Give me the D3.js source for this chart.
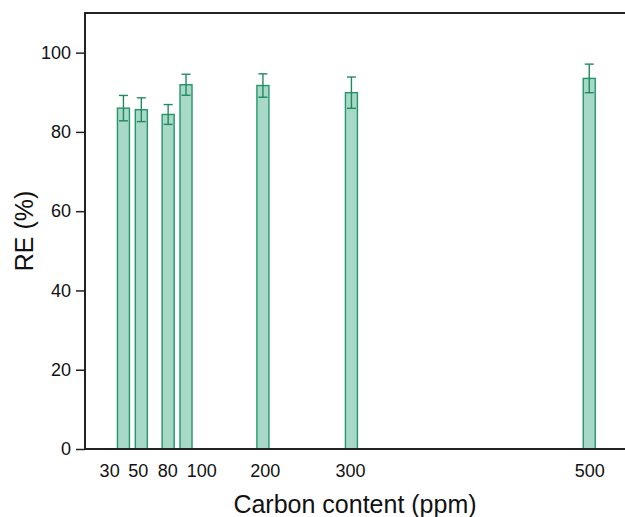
<!DOCTYPE html>
<html>
<head>
<meta charset="utf-8">
<script src="https://cdn.jsdelivr.net/npm/d3@7"></script>
<style>
  html, body { margin: 0; padding: 0; background: #fff; }
  svg { display: block; }
  text { font-family: Arial, "Liberation Sans", sans-serif; fill: #111; }
</style>
</head>
<body>
<svg id="chart" width="625" height="517"></svg>
<script>
// Data
const categories = ["30", "50", "80", "100", "200", "300", "500"];
// position of each bar along the (non-uniformly drawn) carbon axis, in axis units
const xPositions = [30, 50, 80, 100, 186, 285, 551];
// where each category label sits along the same axis (labels are nudged apart in the original)
const labelPositions = [14, 46, 79, 117, 188, 283.5, 551];
const reValues = [86.0, 85.6, 84.4, 91.9, 91.7, 89.9, 93.5];
const reErrors = [3.2, 3.0, 2.5, 2.65, 2.95, 3.95, 3.6];
const yTicks = [0, 20, 40, 60, 80, 100];

const W = 625, H = 517;
const m = { left: 85, right: 0, top: 13, bottom: 68 };
const svg = d3.select("#chart");

const x = d3.scaleLinear().domain([-13, 591]).range([m.left, W - m.right]);
const y = d3.scaleLinear().domain([0, 110]).range([H - m.bottom, m.top]);

const barW = 12, capW = 9;
const fill = "#a8d8c7", stroke = "#22976a", errColor = "#1f8a5f";

const data = categories.map((c, i) => ({ c, xp: xPositions[i], v: reValues[i], e: reErrors[i] }));

// Bars
svg.append("g").selectAll("rect").data(data).join("rect")
  .attr("x", d => x(d.xp) - barW / 2)
  .attr("y", d => y(d.v))
  .attr("width", barW)
  .attr("height", d => y(0) - y(d.v))
  .attr("fill", fill)
  .attr("stroke", stroke)
  .attr("stroke-width", 1.4);

// Error bars
const eg = svg.append("g").attr("stroke", errColor).attr("stroke-width", 1.4).attr("fill", "none");
eg.selectAll("line.v").data(data).join("line").attr("class", "v")
  .attr("x1", d => x(d.xp)).attr("x2", d => x(d.xp))
  .attr("y1", d => y(d.v + d.e)).attr("y2", d => y(d.v - d.e));
eg.selectAll("line.t").data(data).join("line").attr("class", "t")
  .attr("x1", d => x(d.xp) - capW / 2).attr("x2", d => x(d.xp) + capW / 2)
  .attr("y1", d => y(d.v + d.e)).attr("y2", d => y(d.v + d.e));
eg.selectAll("line.b").data(data).join("line").attr("class", "b")
  .attr("x1", d => x(d.xp) - capW / 2).attr("x2", d => x(d.xp) + capW / 2)
  .attr("y1", d => y(d.v - d.e)).attr("y2", d => y(d.v - d.e));

// Y axis
const yAxis = d3.axisLeft(y).tickValues(yTicks).tickSize(9).tickPadding(5).tickSizeOuter(0);
const ya = svg.append("g").attr("transform", `translate(${m.left},0)`).call(yAxis);
ya.select(".domain").remove();
ya.selectAll(".tick line").attr("stroke", "#222").attr("stroke-width", 1.5);
ya.selectAll(".tick text").style("font-size", "18px").style("font-family", "Arial, 'Liberation Sans', sans-serif").attr("fill", "#111");

// X axis (labels only, no tick marks)
const xAxis = d3.axisBottom(x).tickValues(labelPositions)
  .tickFormat((d, i) => categories[i]).tickSize(0).tickPadding(15);
const xa = svg.append("g").attr("transform", `translate(0,${y(0)})`).call(xAxis);
xa.select(".domain").remove();
xa.selectAll(".tick text").style("font-size", "18px").style("font-family", "Arial, 'Liberation Sans', sans-serif").attr("fill", "#111");

// Frame lines: left, bottom, top
const fr = svg.append("g").attr("stroke", "#222").attr("stroke-width", 2);
fr.append("line").attr("x1", m.left).attr("x2", m.left).attr("y1", y(110)).attr("y2", y(0) + 1);
fr.append("line").attr("x1", m.left).attr("x2", W).attr("y1", y(0)).attr("y2", y(0));
fr.append("line").attr("x1", m.left - 1).attr("x2", W).attr("y1", y(110)).attr("y2", y(110));

// Axis titles
svg.append("text")
  .attr("x", (m.left + W) / 2).attr("y", 513)
  .attr("text-anchor", "middle")
  .style("font-size", "25px")
  .text("Carbon content (ppm)");

svg.append("text")
  .attr("transform", `translate(33,${(y(0) + y(110)) / 2}) rotate(-90)`)
  .attr("text-anchor", "middle")
  .style("font-size", "25px")
  .text("RE (%)");
</script>
</body>
</html>
